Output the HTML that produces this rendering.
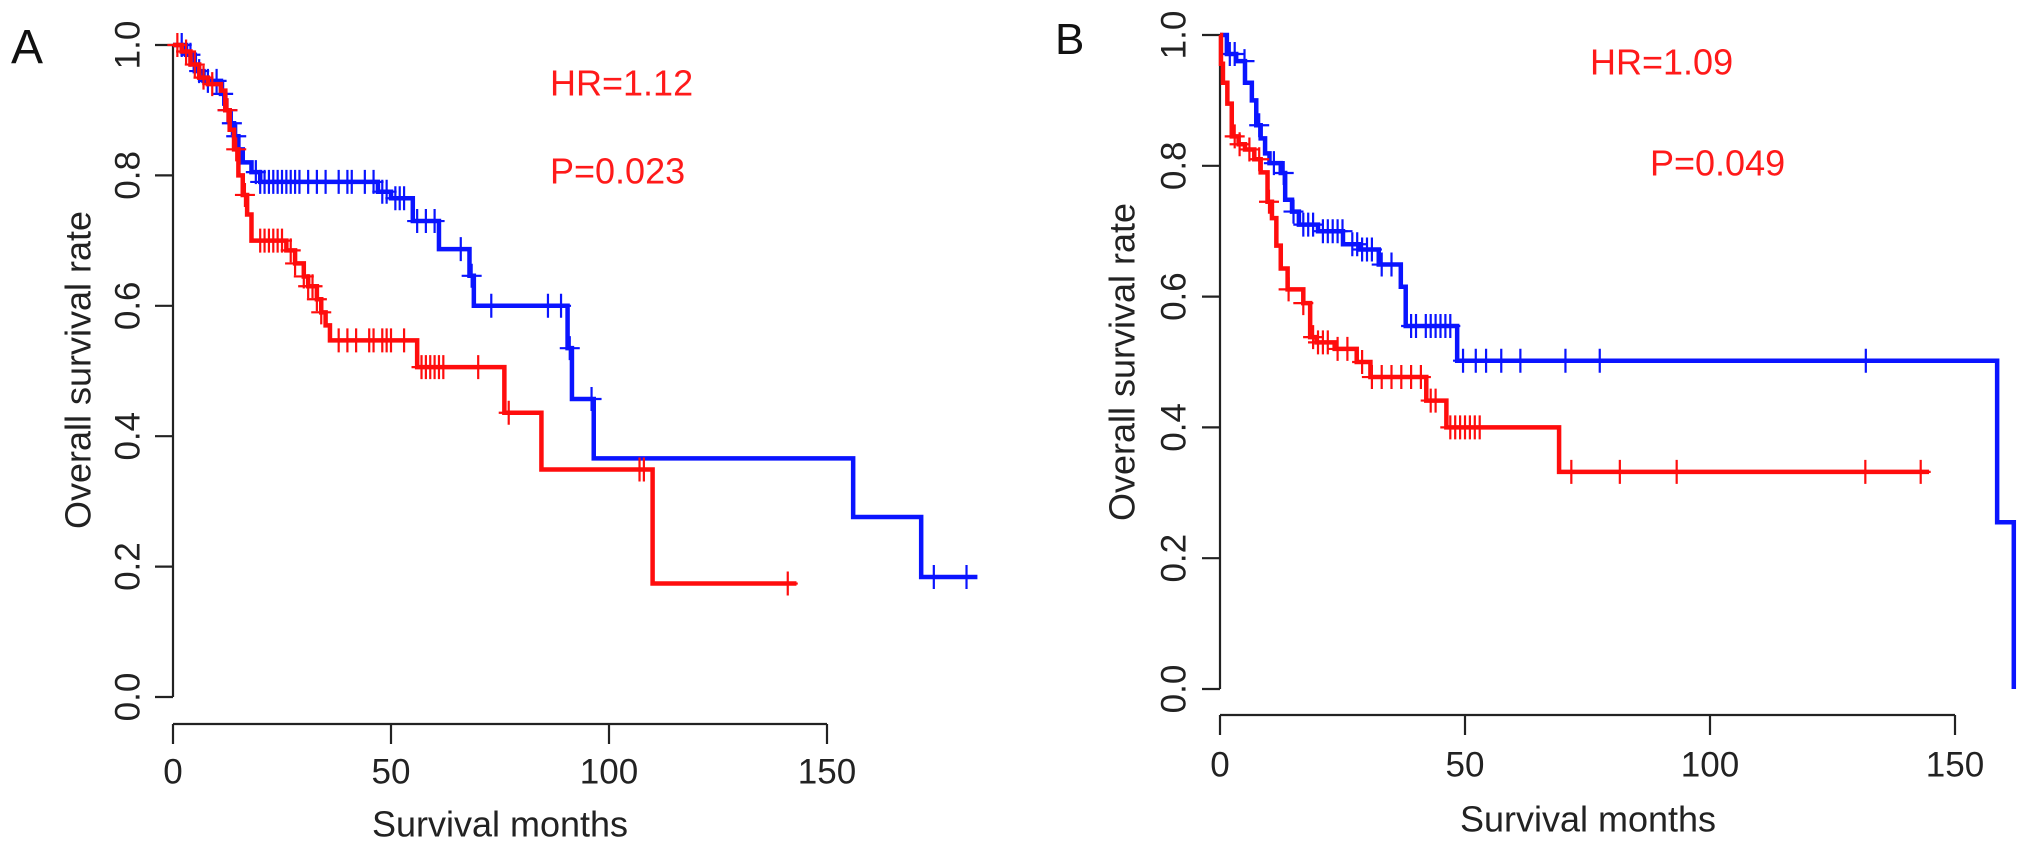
<!DOCTYPE html>
<html><head><meta charset="utf-8">
<style>
html,body{margin:0;padding:0;background:#fff;}
svg{display:block;font-family:"Liberation Sans",Arial,sans-serif;}
</style></head>
<body>
<svg id="chart" width="2031" height="849" viewBox="0 0 2031 849"></svg>
<script>
// Panel A data
const aBlueTimes=[0,3,5,7,11,12,13,14,15,16,18,20,47,50,55,61,68,69,90.5,91.5,96.5,156,171.6];
const aBlueSurv=[1.0,0.985,0.96,0.945,0.925,0.9,0.88,0.86,0.84,0.82,0.805,0.79,0.775,0.765,0.73,0.687,0.646,0.6,0.535,0.457,0.366,0.276,0.184];
const aBlueEnd=184.5;
const aBlueCens=[2,4,6,8,10,11.5,12.5,13.5,14.5,19,20,21,22,23,24,25,26,27,28,29,31,33,35,38,40,41,44,46,48,49,51,52,53,56,58,60,66,68.5,73,86,89,91,96,174.5,182];
const aRedTimes=[0,2,4,6,8,11,12,13,14,15,16,17,18,26,28,30,31,33,34,35,36,56,76,84.5,110];
const aRedSurv=[1.0,0.99,0.97,0.95,0.94,0.93,0.9,0.87,0.84,0.8,0.77,0.74,0.70,0.685,0.665,0.645,0.63,0.61,0.59,0.57,0.547,0.506,0.436,0.349,0.174];
const aRedEnd=143;
const aRedCens=[1,3,5,7,9,12.5,14.5,16.5,20,21,22,23,24,25,27,28,30,31,32,33,34,38,40,42,45,46,48,49,50,53,57,58,59,60,61,62,70,77,107,108,141];
// Panel B data
const bBlueTimes=[0,1.4,3.3,5.1,6.5,7.4,8.3,9.2,10.1,12.4,13.3,14.7,16.1,20,25.1,28.4,32.4,36.9,37.9,48.4,158.6,162];
const bBlueSurv=[1.0,0.971,0.96,0.927,0.90,0.862,0.842,0.819,0.804,0.789,0.748,0.73,0.71,0.70,0.68,0.672,0.649,0.615,0.555,0.502,0.255,0.0];
const bBlueEnd=162;
const bBlueCens=[2,3,5,8,11,13,15,17,18,19,21,22,23,24,25,27,28,29,30,31,33,35,39,40,42,43,44,45,46,47,49.6,52.2,54.3,57.4,61.3,70.5,77.5,131.8];
const bRedTimes=[0,0.2,0.6,1.5,2.4,3.8,5.1,7,8.3,9.7,10.6,11.5,12.4,13.8,17,18.4,19.7,23.4,27.9,30.7,42.1,46.2,69.2];
const bRedSurv=[1.0,0.956,0.927,0.895,0.845,0.833,0.825,0.81,0.79,0.745,0.72,0.678,0.643,0.611,0.59,0.538,0.53,0.52,0.50,0.477,0.441,0.40,0.332];
const bRedEnd=144.7;
const bRedCens=[3,4,6,8,10,14,17,19,20,21,22,24,26,29,31,33,35,37,39,41,43,44,47,48,49,50,51,52,53,71.7,81.6,93.2,131.7,143];
const xTicks=[0,50,100,150];
const yTicks=[0,0.2,0.4,0.6,0.8,1.0];
const yTickLabels=["0.0","0.2","0.4","0.6","0.8","1.0"];
const statsA=["HR=1.12","P=0.023"];
const statsB=["HR=1.09","P=0.049"];

const NS="http://www.w3.org/2000/svg";
const svg=document.getElementById('chart');
function mk(tag,attrs,parent){const e=document.createElementNS(NS,tag);for(const k in attrs)e.setAttribute(k,attrs[k]);(parent||svg).appendChild(e);return e;}

function stepAt(times,surv,t){let s=surv[0];for(let i=0;i<times.length;i++){if(times[i]<=t)s=surv[i];}return s;}

function panel(cfg){
  const g=mk('g',{});
  
  
  const X=m=>cfg.x0+m*cfg.px;
  const Y=s=>cfg.y0-s*cfg.py;
  const ya=mk('g',{},g);
  
  
  mk('line',{x1:cfg.x0,y1:Y(0),x2:cfg.x0,y2:Y(1),stroke:'#222','stroke-width':2.2},ya);
  yTicks.forEach((v,i)=>{
    mk('line',{x1:cfg.x0-18,y1:Y(v),x2:cfg.x0,y2:Y(v),stroke:'#222','stroke-width':2.2},ya);
    const t=mk('text',{x:cfg.ylx,y:Y(v),'font-size':35,fill:'#222','text-anchor':'middle','dominant-baseline':'central',transform:`rotate(-90 ${cfg.ylx} ${Y(v)})`},ya);
    
    
    t.textContent=yTickLabels[i];
  });
  const xa=mk('g',{},g);
  
  
  mk('line',{x1:X(0),y1:cfg.xay,x2:X(150),y2:cfg.xay,stroke:'#222','stroke-width':2.2},xa);
  xTicks.forEach(v=>{
    mk('line',{x1:X(v),y1:cfg.xay,x2:X(v),y2:cfg.xay+20,stroke:'#222','stroke-width':2.2},xa);
    const t=mk('text',{x:X(v),y:cfg.xly,'font-size':35,fill:'#222','text-anchor':'middle','dominant-baseline':'central'},xa);
    
    
    t.textContent=String(v);
  });
  const xt=mk('text',{x:cfg.xtx,y:cfg.xty,'font-size':36,fill:'#222','text-anchor':'middle','dominant-baseline':'central'},g);
  
  
  xt.textContent='Survival months';
  const yt=mk('text',{x:cfg.ytx,y:cfg.yty,'font-size':36,fill:'#222','text-anchor':'middle','dominant-baseline':'central',transform:`rotate(-90 ${cfg.ytx} ${cfg.yty})`},g);
  
  
  yt.textContent='Overall survival rate';
  const lb=mk('text',{x:cfg.lbx,y:cfg.lby,'font-size':cfg.lbs,fill:'#111'},g);
  
  
  lb.textContent=cfg.label;
  cfg.stats.forEach((s,i)=>{
    const t=mk('text',{x:cfg.sx[i],y:cfg.sy[i],'font-size':36,fill:'#ff1a1a','dominant-baseline':'central'},g);
    
    
    t.textContent=s;
  });
  cfg.series.forEach(sr=>{
    const sg=mk('g',{},g);
    
    
    let d=`M${X(sr.times[0])},${Y(sr.surv[0])}`;
    for(let i=1;i<sr.times.length;i++){d+=`H${X(sr.times[i])}V${Y(sr.surv[i])}`;}
    d+=`H${X(sr.end)}`;
    const p=mk('path',{d:d,fill:'none',stroke:sr.color,'stroke-width':4.5,'stroke-linejoin':'miter'},sg);
    
    
    sr.cens.forEach(t=>{
      const cx=X(t),cy=Y(stepAt(sr.times,sr.surv,t));
      const c=mk('path',{d:`M${cx-10},${cy}H${cx+10}M${cx},${cy-12}V${cy+12}`,stroke:sr.color,'stroke-width':2.2,fill:'none'},sg);
      
      
    });
  });
}

panel({name:'panel-a',x0:173,px:4.36,y0:697,py:652,xay:724,xly:772,ylx:128,xtx:500,xty:824,ytx:78,yty:370,
  label:'A',lbx:11,lby:63,lbs:48,stats:statsA,sx:[550,550],sy:[83,171],
  series:[
    {name:'series-blue',color:'#0a14ff',times:aBlueTimes,surv:aBlueSurv,end:aBlueEnd,cens:aBlueCens},
    {name:'series-red',color:'#ff0d0d',times:aRedTimes,surv:aRedSurv,end:aRedEnd,cens:aRedCens}
  ]});
panel({name:'panel-b',x0:1220,px:4.9,y0:689,py:654,xay:715,xly:765,ylx:1174,xtx:1588,xty:819,ytx:1122,yty:362,
  label:'B',lbx:1055,lby:54,lbs:44,stats:statsB,sx:[1590,1650],sy:[62,163],
  series:[
    {name:'series-blue',color:'#0a14ff',times:bBlueTimes,surv:bBlueSurv,end:bBlueEnd,cens:bBlueCens},
    {name:'series-red',color:'#ff0d0d',times:bRedTimes,surv:bRedSurv,end:bRedEnd,cens:bRedCens}
  ]});
</script>
</body></html>
